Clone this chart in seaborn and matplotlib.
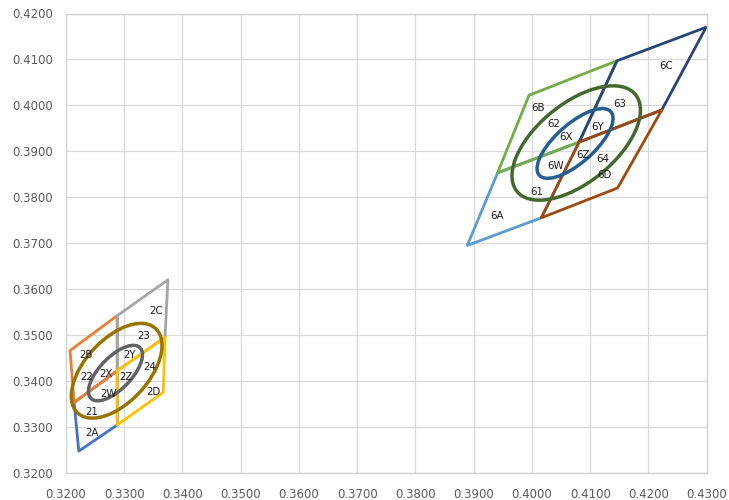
import pandas as pd
import matplotlib
matplotlib.use("Agg")
import matplotlib.pyplot as plt
import seaborn as sns
from matplotlib.patches import Ellipse
from matplotlib.ticker import FormatStrFormatter

# quadrangle outlines: TL, top mid, TR, right mid, BR, bottom mid, bottom, left mid
ring2_x = [0.3207, 0.3288, 0.3375, 0.3370, 0.3367, 0.3288, 0.3222, 0.3214]
ring2_y = [0.3466, 0.3542, 0.3620, 0.3495, 0.3375, 0.3304, 0.3247, 0.3353]
centre2 = [0.3288, 0.3422]

ring6_x = [0.3995, 0.4146, 0.4299, 0.4223, 0.4147, 0.4016, 0.3889, 0.3941]
ring6_y = [0.4022, 0.4097, 0.4170, 0.3990, 0.3820, 0.3755, 0.3695, 0.3853]
centre6 = [0.4081, 0.3920]

bins2 = ["2A", "2B", "2C", "2D"]
bins6 = ["6A", "6B", "6C", "6D"]
# ring points used by each sub bin (the centre closes each one)
bin_pts = [(5, 6, 7), (7, 0, 1), (1, 2, 3), (3, 4, 5)]
colors2 = ["#4472C4", "#ED7D31", "#A5A5A5", "#FFC000"]
colors6 = ["#5B9BD5", "#70AD47", "#264478", "#9E480E"]

# ellipses: centre, semi axes, angle
ell_cx = [0.3285, 0.3287, 0.4074, 0.4076]
ell_cy = [0.3417, 0.3422, 0.3917, 0.3918]
ell_a = [0.0070, 0.0115, 0.0093, 0.0148]
ell_b = [0.0030, 0.0059, 0.0037, 0.0076]
ell_ang = [56, 59, 51, 51]
ell_colors = ["#636363", "#997300", "#255E91", "#43682B"]

labels = ["2C", "23", "2B", "2Y", "24", "2X", "22", "2Z", "2W", "2D", "21", "2A",
          "6C", "63", "6B", "62", "6Y", "6X", "6Z", "64", "6W", "6D", "61", "6A"]
label_x = [0.3355, 0.3334, 0.3234, 0.3310, 0.3343, 0.3268, 0.3236, 0.3304, 0.3273, 0.3350, 0.3245, 0.3245,
           0.4230, 0.4151, 0.4010, 0.4038, 0.4113, 0.4058, 0.4088, 0.4121, 0.4040, 0.4125, 0.4009, 0.3940]
label_y = [0.3553, 0.3498, 0.3456, 0.3456, 0.3431, 0.3415, 0.3408, 0.3409, 0.3371, 0.3376, 0.3333, 0.3287,
           0.4086, 0.4004, 0.3994, 0.3959, 0.3952, 0.3932, 0.3892, 0.3883, 0.3868, 0.3848, 0.3812, 0.3758]

rows = []
for ring_x, ring_y, centre, names in [(ring2_x, ring2_y, centre2, bins2), (ring6_x, ring6_y, centre6, bins6)]:
    for name, pts in zip(names, bin_pts):
        xs = [centre[0]] + [ring_x[i] for i in pts] + [centre[0]]
        ys = [centre[1]] + [ring_y[i] for i in pts] + [centre[1]]
        for x, y in zip(xs, ys):
            rows.append({"bin": name, "x": x, "y": y})
df = pd.DataFrame(rows)

sns.set_theme(style="white")
plt.rcParams["font.family"] = ["DejaVu Sans"]

fig = plt.figure(figsize=(7.29, 5.0), dpi=100)
ax = fig.add_axes([0.0905, 0.0546, 0.8789, 0.9184])

sns.lineplot(data=df, x="x", y="y", hue="bin", hue_order=bins2 + bins6,
             palette=colors2 + colors6, sort=False, estimator=None,
             linewidth=2.0, legend=False, ax=ax)

for cx, cy, a, b, ang, c in zip(ell_cx, ell_cy, ell_a, ell_b, ell_ang, ell_colors):
    ax.add_patch(Ellipse((cx, cy), 2 * a, 2 * b, angle=ang, fill=False,
                         edgecolor=c, linewidth=2.5, zorder=3))

for t, x, y in zip(labels, label_x, label_y):
    ax.text(x, y, t, fontsize=7.4, color="#1a1a1a", ha="center", va="center", zorder=4)

ax.set_xlim(0.32, 0.43)
ax.set_ylim(0.32, 0.42)
ax.set_xticks([0.32 + 0.01 * i for i in range(12)])
ax.set_yticks([0.32 + 0.01 * i for i in range(11)])
ax.xaxis.set_major_formatter(FormatStrFormatter("%.4f"))
ax.yaxis.set_major_formatter(FormatStrFormatter("%.4f"))
ax.grid(True, color="#d9d9d9", linewidth=0.9)
ax.set_axisbelow(True)
for s in ax.spines.values():
    s.set_color("#d0d0d0")
    s.set_linewidth(0.9)
ax.tick_params(axis="both", length=0, labelsize=8.5, colors="#595959")
ax.tick_params(axis="x", pad=11)
ax.tick_params(axis="y", pad=9.5)
ax.set_xlabel("")
ax.set_ylabel("")

fig.savefig("out.png", dpi=100)
